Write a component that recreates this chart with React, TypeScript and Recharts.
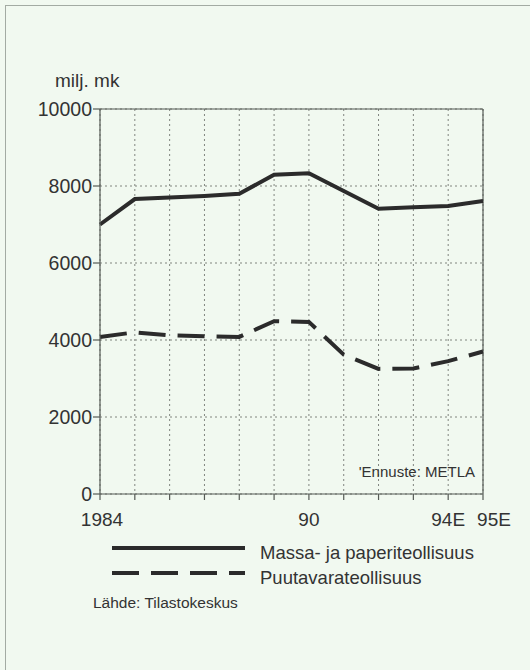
import React from "react";
import {
  LineChart,
  Line,
  XAxis,
  YAxis,
  CartesianGrid,
  ReferenceLine,
} from "recharts";

const years = [1984, 1985, 1986, 1987, 1988, 1989, 1990, 1991, 1992, 1993, 1994, 1995];
const yearLabels = ["1984", "", "", "", "", "", "90", "", "", "", "94E", "95E"];
const massaPaperi = [7000, 7660, 7700, 7740, 7800, 8290, 8330, 7870, 7410, 7450, 7480, 7610];
const puutavara = [4080, 4200, 4120, 4100, 4080, 4490, 4470, 3620, 3250, 3260, 3450, 3700];
const yTicks = [0, 2000, 4000, 6000, 8000, 10000];

const seriesNames = ["Massa- ja paperiteollisuus", "Puutavarateollisuus"];

const data = years.map((y, i) => ({
  year: y,
  massa: massaPaperi[i],
  puu: puutavara[i],
}));

const FONT = "'Liberation Sans', Arial, Helvetica, sans-serif";
const INK = "#2b2b2b";
const TEXT = "#333";
const BG = "#f1f9f0";

function XTick(props: any) {
  const { x, y, payload } = props;
  const label = yearLabels[years.indexOf(payload.value)] ?? "";
  if (!label) return null;
  const dx = label === "95E" ? 11 : label === "1984" ? 2 : 0;
  return (
    <text
      x={x + dx}
      y={y}
      dy="0.71em"
      textAnchor="middle"
      fill={TEXT}
      fontSize={19}
      fontFamily={FONT}
    >
      {label}
    </text>
  );
}

export default function App() {
  return (
    <div
      style={{
        position: "absolute",
        left: 0,
        top: 0,
        width: 530,
        height: 670,
        background: BG,
        fontFamily: FONT,
        overflow: "hidden",
      }}
    >
      <div
        style={{
          position: "absolute",
          left: 5,
          top: 5,
          width: 530,
          height: 670,
          borderLeft: "1px solid #a3aba3",
          borderTop: "1px solid #a3aba3",
        }}
      />
      <div style={{ position: "absolute", left: 0, top: 0 }}>
        <LineChart
          width={530}
          height={670}
          data={data}
          margin={{ top: 109, right: 47, bottom: 146, left: 40 }}
        >
          <CartesianGrid stroke="#80857f" strokeDasharray="2 3" strokeWidth={1} />
          <XAxis
            dataKey="year"
            type="number"
            domain={[1984, 1995]}
            ticks={years}
            tick={<XTick />}
            height={30}
            tickSize={6}
            tickMargin={13}
            axisLine={{ stroke: "#555a55", strokeWidth: 1.2 }}
            tickLine={{ stroke: "#555a55", strokeWidth: 1.2 }}
            interval={0}
          />
          <YAxis
            type="number"
            domain={[0, 10000]}
            ticks={yTicks}
            width={60}
            tickSize={7}
            tickMargin={1}
            axisLine={{ stroke: "#555a55", strokeWidth: 1.2 }}
            tickLine={{ stroke: "#555a55", strokeWidth: 1.2 }}
            tick={{ fill: TEXT, fontSize: 19.5, fontFamily: FONT }}
            interval={0}
          />
          <ReferenceLine y={10000} stroke="#555a55" strokeWidth={1.2} />
          <ReferenceLine x={1995} stroke="#555a55" strokeWidth={1.2} />
          <Line
            type="linear"
            dataKey="massa"
            name={seriesNames[0]}
            stroke={INK}
            strokeWidth={4}
            dot={false}
            isAnimationActive={false}
          />
          <Line
            type="linear"
            dataKey="puu"
            name={seriesNames[1]}
            stroke={INK}
            strokeWidth={4}
            strokeDasharray="27 12"
            dot={false}
            isAnimationActive={false}
          />
        </LineChart>
      </div>
      <svg
        style={{ position: "absolute", left: 0, top: 0, pointerEvents: "none" }}
        width={530}
        height={670}
      >
        <text x={55} y={87} fontSize={19} fill={TEXT} fontFamily={FONT}>
          milj. mk
        </text>
        <text
          x={475}
          y={477}
          fontSize={15}
          fill={TEXT}
          fontFamily={FONT}
          textAnchor="end"
        >
          'Ennuste: METLA
        </text>
        <line x1={112} x2={245} y1={548} y2={548} stroke={INK} strokeWidth={4} />
        <line
          x1={112}
          x2={245}
          y1={573}
          y2={573}
          stroke={INK}
          strokeWidth={4}
          strokeDasharray="27 12"
        />
        <text x={260} y={559} fontSize={18.5} fill={TEXT} fontFamily={FONT}>
          {seriesNames[0]}
        </text>
        <text x={260} y={584} fontSize={18.5} fill={TEXT} fontFamily={FONT}>
          {seriesNames[1]}
        </text>
        <text x={93} y={608} fontSize={15.5} fill={TEXT} fontFamily={FONT}>
          Lähde: Tilastokeskus
        </text>
      </svg>
    </div>
  );
}
